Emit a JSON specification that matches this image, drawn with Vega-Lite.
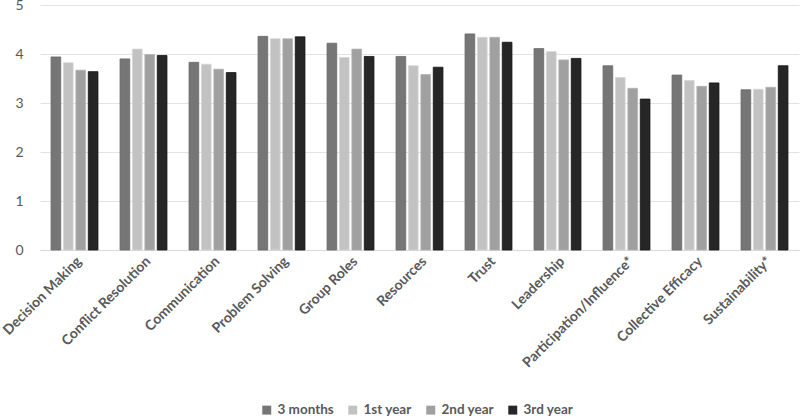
{
  "$schema": "https://vega.github.io/schema/vega-lite/v6.json",
  "width": 759,
  "height": 245,
  "autosize": "none",
  "padding": {"left": 40, "top": 5, "right": 1, "bottom": 169},
  "background": "white",
  "data": {
    "values": [
      {"category": "Decision Making", "period": "3 months", "value": 3.94},
      {"category": "Decision Making", "period": "1st year", "value": 3.82},
      {"category": "Decision Making", "period": "2nd year", "value": 3.67},
      {"category": "Decision Making", "period": "3rd year", "value": 3.64},
      {"category": "Conflict Resolution", "period": "3 months", "value": 3.90},
      {"category": "Conflict Resolution", "period": "1st year", "value": 4.10},
      {"category": "Conflict Resolution", "period": "2nd year", "value": 3.99},
      {"category": "Conflict Resolution", "period": "3rd year", "value": 3.97},
      {"category": "Communication", "period": "3 months", "value": 3.83},
      {"category": "Communication", "period": "1st year", "value": 3.79},
      {"category": "Communication", "period": "2nd year", "value": 3.69},
      {"category": "Communication", "period": "3rd year", "value": 3.62},
      {"category": "Problem Solving", "period": "3 months", "value": 4.36},
      {"category": "Problem Solving", "period": "1st year", "value": 4.31},
      {"category": "Problem Solving", "period": "2nd year", "value": 4.31},
      {"category": "Problem Solving", "period": "3rd year", "value": 4.35},
      {"category": "Group Roles", "period": "3 months", "value": 4.22},
      {"category": "Group Roles", "period": "1st year", "value": 3.93},
      {"category": "Group Roles", "period": "2nd year", "value": 4.10},
      {"category": "Group Roles", "period": "3rd year", "value": 3.95},
      {"category": "Resources", "period": "3 months", "value": 3.95},
      {"category": "Resources", "period": "1st year", "value": 3.76},
      {"category": "Resources", "period": "2nd year", "value": 3.58},
      {"category": "Resources", "period": "3rd year", "value": 3.73},
      {"category": "Trust", "period": "3 months", "value": 4.41},
      {"category": "Trust", "period": "1st year", "value": 4.34},
      {"category": "Trust", "period": "2nd year", "value": 4.34},
      {"category": "Trust", "period": "3rd year", "value": 4.24},
      {"category": "Leadership", "period": "3 months", "value": 4.11},
      {"category": "Leadership", "period": "1st year", "value": 4.05},
      {"category": "Leadership", "period": "2nd year", "value": 3.88},
      {"category": "Leadership", "period": "3rd year", "value": 3.91},
      {"category": "Participation/Influence*", "period": "3 months", "value": 3.76},
      {"category": "Participation/Influence*", "period": "1st year", "value": 3.52},
      {"category": "Participation/Influence*", "period": "2nd year", "value": 3.30},
      {"category": "Participation/Influence*", "period": "3rd year", "value": 3.08},
      {"category": "Collective Efficacy", "period": "3 months", "value": 3.57},
      {"category": "Collective Efficacy", "period": "1st year", "value": 3.46},
      {"category": "Collective Efficacy", "period": "2nd year", "value": 3.34},
      {"category": "Collective Efficacy", "period": "3rd year", "value": 3.41},
      {"category": "Sustainability*", "period": "3 months", "value": 3.27},
      {"category": "Sustainability*", "period": "1st year", "value": 3.28},
      {"category": "Sustainability*", "period": "2nd year", "value": 3.32},
      {"category": "Sustainability*", "period": "3rd year", "value": 3.76}
    ]
  },
  "mark": {"type": "bar", "strokeWidth": 0.8},
  "encoding": {
    "x": {
      "field": "category",
      "type": "nominal",
      "sort": null,
      "title": null,
      "scale": {"paddingInner": 0.32, "paddingOuter": 0.16},
      "axis": {
        "labelAngle": -45,
        "labelAlign": "right",
        "labelBaseline": "top",
        "labelFont": "Lato",
        "labelFontWeight": "bold",
        "labelFontSize": 14,
        "labelColor": "#595959",
        "labelPadding": 4,
        "ticks": false,
        "domainColor": "#d9d9d9",
        "domainWidth": 1,
        "labelOverlap": false
      }
    },
    "xOffset": {
      "field": "period",
      "type": "nominal",
      "sort": ["3 months", "1st year", "2nd year", "3rd year"],
      "scale": {"paddingInner": 0.22}
    },
    "y": {
      "field": "value",
      "type": "quantitative",
      "title": null,
      "scale": {"domain": [0, 5]},
      "axis": {
        "values": [0, 1, 2, 3, 4, 5],
        "grid": true,
        "gridColor": "#e3e3e3",
        "gridWidth": 1.2,
        "domain": false,
        "ticks": false,
        "labelFont": "Lato",
        "labelFontSize": 14,
        "labelColor": "#595959",
        "labelPadding": 17
      }
    },
    "color": {
      "field": "period",
      "type": "nominal",
      "sort": ["3 months", "1st year", "2nd year", "3rd year"],
      "title": null,
      "scale": {
        "domain": ["3 months", "1st year", "2nd year", "3rd year"],
        "range": ["#767676", "#c2c2c2", "#a0a0a0", "#262626"]
      },
      "legend": {
        "orient": "none",
        "direction": "horizontal",
        "legendX": 220,
        "legendY": 398,
        "symbolType": "square",
        "symbolSize": 80,
        "symbolStrokeWidth": 0,
        "labelFont": "Lato",
        "labelFontWeight": "bold",
        "labelFontSize": 13.5,
        "labelColor": "#595959",
        "columnPadding": 12,
        "labelOffset": 4
      }
    },
    "stroke": {
      "field": "period",
      "type": "nominal",
      "legend": null,
      "scale": {
        "domain": ["3 months", "1st year", "2nd year", "3rd year"],
        "range": ["#6a6a6a", "#d6d6d6", "#b4b4b4", "#111111"]
      }
    }
  },
  "config": {"view": {"stroke": null}}
}
